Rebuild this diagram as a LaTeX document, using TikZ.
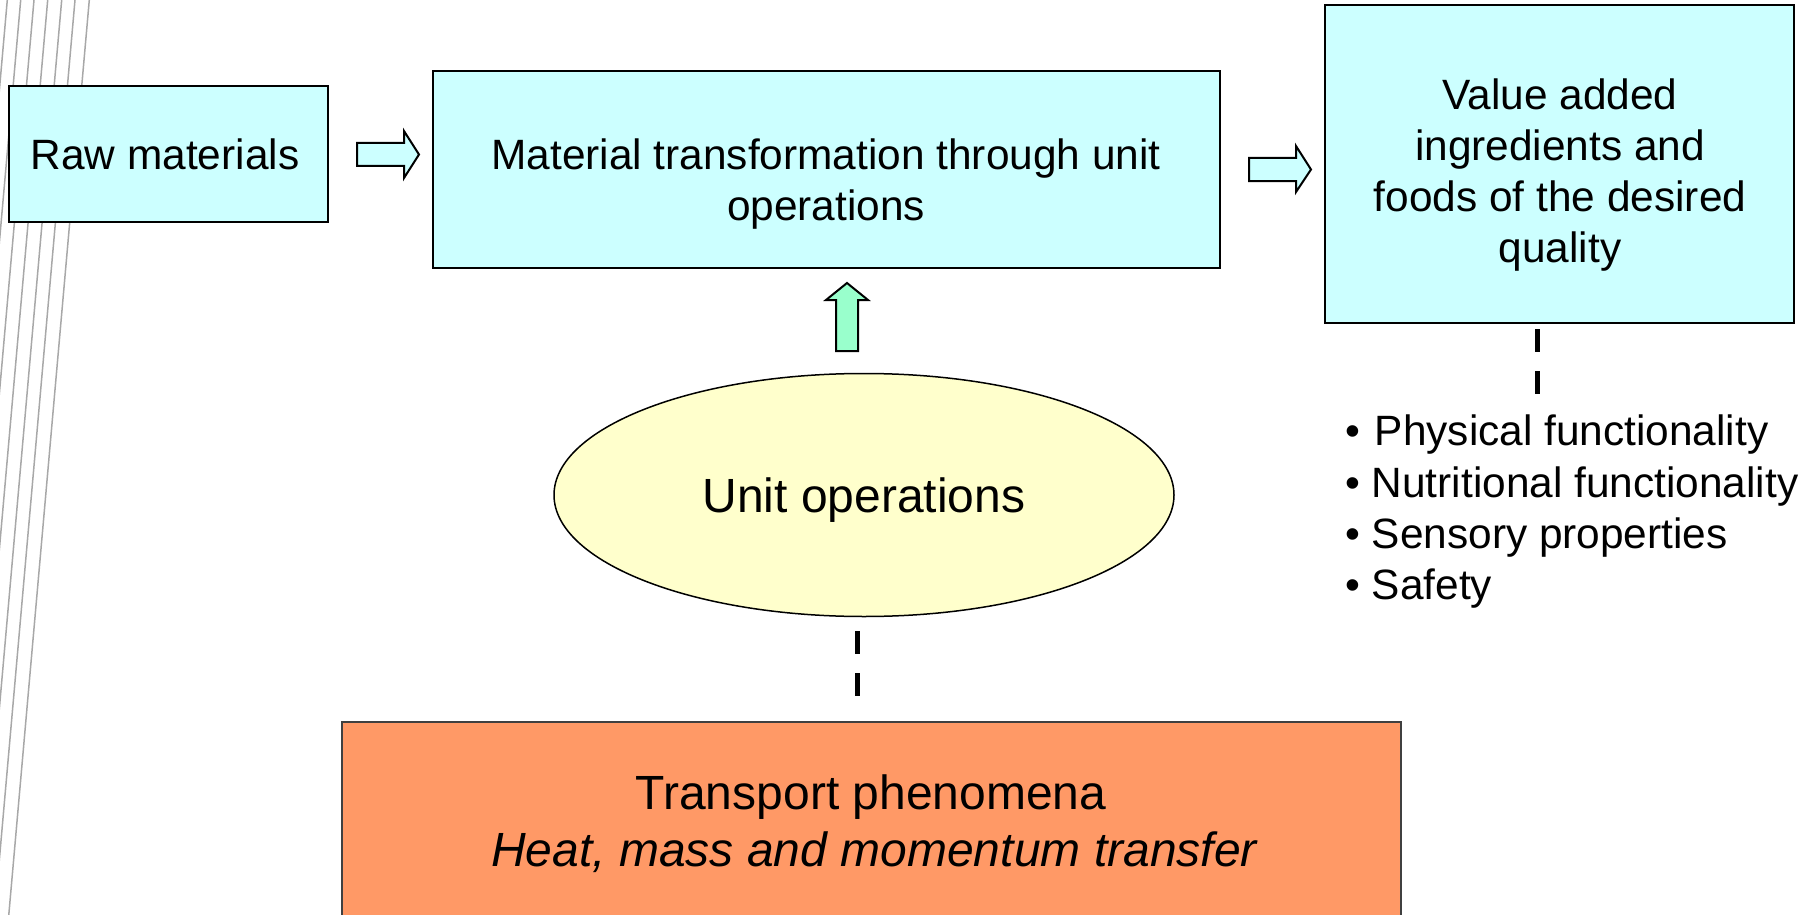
\documentclass[tikz,border=0pt]{standalone}
\usepackage{fontspec}
\setmainfont{Liberation Sans}
\usetikzlibrary{shapes.geometric}
\definecolor{boxcyan}{HTML}{CCFFFF}
\definecolor{ellyellow}{HTML}{FFFFCC}
\definecolor{arrmint}{HTML}{99FFCC}
\definecolor{tporange}{HTML}{FF9966}
\definecolor{decogray}{HTML}{A8A8A8}
\begin{document}
\begin{tikzpicture}[x=1pt,y=-1pt,
  cyanbox/.style={draw=black,line width=2pt,fill=boxcyan,rectangle,inner sep=0pt},
  txt/.style={font=\fontsize{42.4}{51}\selectfont,inner sep=0pt,anchor=base},
  bigtxt/.style={font=\fontsize{48}{57}\selectfont,inner sep=0pt,anchor=base},
  blockarrow/.style={draw=black,line width=2pt,line join=miter},
  dashline/.style={draw=black,line width=5pt,dash pattern=on 23pt off 19pt},
  decoline/.style={draw=decogray,line width=1.5pt}]
\useasboundingbox (0,0) rectangle (1818,915);
\clip (0,0) rectangle (1818,915);
% decorative slanted lines at the left edge
\foreach \xo in {7.3,20.7,34,47.7,61.7,75,89.3}{
  \draw[decoline] (\xo+0.88,-10) -- (\xo-81.4,925);
}
% boxes
\node[cyanbox,minimum width=319pt,minimum height=136pt] (raw) at (168.5,154) {};
\node[cyanbox,minimum width=787pt,minimum height=197pt] (mat) at (826.5,169.5) {};
\node[cyanbox,minimum width=469pt,minimum height=318pt] (val) at (1559.5,164) {};
\node[draw=black,line width=1.5pt,fill=ellyellow,ellipse,inner sep=0pt,
      minimum width=620pt,minimum height=243pt] (uo) at (864,495) {};
\node[draw=black!75,line width=1.5pt,fill=tporange,rectangle,inner sep=0pt,
      minimum width=1059pt,minimum height=220pt] (tp) at (871.5,832) {};
% texts
\node[txt] (rawt) at (165,169) {Raw materials};
\node[txt] (matt1) at (826,169) {Material transformation through unit};
\node[txt] (matt2) at (826,220) {operations};
\node[txt] (valt1) at (1560,109.5) {Value added};
\node[txt] (valt2) at (1560,160.5) {ingredients and};
\node[txt] (valt3) at (1560,211.5) {foods of the desired};
\node[txt] (valt4) at (1560,262.5) {quality};
\node[bigtxt] (uot) at (864,512) {Unit operations};
\node[bigtxt] (tpt1) at (871,809) {Transport phenomena};
\node[bigtxt] (tpt2) at (874,866) {\itshape Heat, mass and momentum transfer};
\node[txt,anchor=base west] (b1) at (1345,445) {\textbullet\ \kern3pt Physical functionality};
\node[txt,anchor=base west] (b2) at (1345,497) {\textbullet\ Nutritional functionality};
\node[txt,anchor=base west] (b3) at (1345,548) {\textbullet\ Sensory properties};
\node[txt,anchor=base west] (b4) at (1345,599) {\textbullet\ Safety};
% block arrows
\filldraw[blockarrow,fill=boxcyan] (357,143) -- (404,143) -- (404,131) -- (419,154.5)
  -- (404,178) -- (404,166) -- (357,166) -- cycle;
\filldraw[blockarrow,fill=boxcyan] (1249,158) -- (1296,158) -- (1296,146) -- (1311,169.5)
  -- (1296,192) -- (1296,181) -- (1249,181) -- cycle;
\filldraw[blockarrow,fill=arrmint] (836,351) -- (836,300) -- (826,300) -- (847,283)
  -- (868,300) -- (858,300) -- (858,351) -- cycle;
% dashed connectors
\coordinate (d1s) at (857,631);
\coordinate (d1e) at (857,697);
\coordinate (d2s) at (1537,329);
\coordinate (d2e) at (1537,394);
\draw[dashline] (d1s) -- (d1e);
\draw[dashline] (d2s) -- (d2e);
\end{tikzpicture}
\end{document}
